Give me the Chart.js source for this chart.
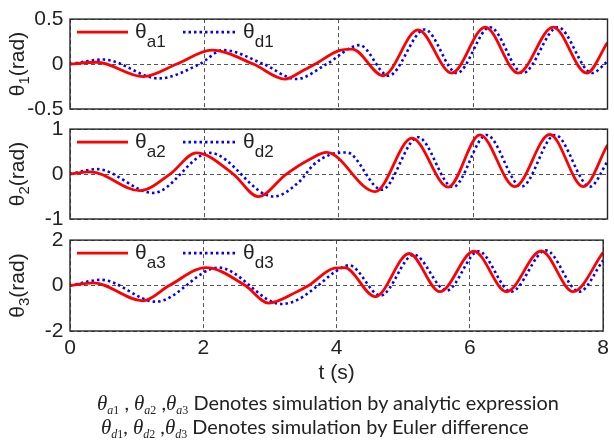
<!DOCTYPE html>
<html>
<head>
<meta charset="utf-8">
<script src="https://cdn.jsdelivr.net/npm/chart.js@4"></script>
<style>
  body { margin: 0; background: #fff; }
  #wrap { position: relative; width: 614px; height: 441px; overflow: hidden; background: #fff; }
  #wrap canvas { position: absolute; left: 0; }
  .cap { position: absolute; font-family: Lato, "Open Sans", sans-serif; font-size: 19.9px; line-height: 24px; color: #222; white-space: nowrap; }
  .th { font-family: "Liberation Serif", serif; font-style: italic; font-size: 21px; }
  .th sub { font-size: 12px; vertical-align: -4px; }
  .th sub b { font-style: normal; font-weight: normal; }
</style>
</head>
<body>
<div id="wrap">
  <canvas id="p1" width="614" height="130" style="top:0px"></canvas>
  <canvas id="p2" width="614" height="130" style="top:110px"></canvas>
  <canvas id="p3" width="614" height="165" style="top:221px"></canvas>
  <div class="cap" style="left:97px; top:390px"><span class="th">θ<sub>a<b>1</b></sub></span> , <span class="th">θ<sub>a<b>2</b></sub></span> ,<span class="th">θ<sub>a<b>3</b></sub></span> Denotes simulation by analytic expression</div>
  <div class="cap" style="left:101px; top:414px"><span class="th">θ<sub>d<b>1</b></sub></span>, <span class="th">θ<sub>d<b>2</b></sub></span> ,<span class="th">θ<sub>d<b>3</b></sub></span> Denotes simulation by Euler difference</div>
</div>
<script>
// ---- data (t in s, theta in rad) ----

// joint 1
const tA1 = [0, 0.4, 1.09, 1.59, 2.11, 2.73, 3.2, 3.45, 3.65, 4.0, 4.2, 4.66, 5.18, 5.68, 6.18, 6.67, 7.19, 7.69, 8.0];
const yA1 = [0, 0.02, -0.14, 0, 0.155, 0, -0.167, -0.08, 0, 0.15, 0.167, -0.13, 0.38, -0.1, 0.41, -0.1, 0.41, -0.1, 0.24];
const tD1 = [0, 0.5, 1.32, 1.93, 2.28, 2.88, 3.37, 3.82, 4.31, 4.74, 5.28, 5.76, 6.25, 6.74, 7.26, 7.77, 8.0];
const yD1 = [0, 0.05, -0.16, 0, 0.155, 0, -0.167, 0, 0.21, -0.13, 0.385, -0.1, 0.41, -0.1, 0.41, -0.1, 0.03];

// joint 2
const tA2 = [0, 0.3, 1.04, 1.49, 1.88, 2.43, 2.8, 3.22, 3.57, 3.82, 4.54, 5.09, 5.63, 6.1, 6.62, 7.14, 7.64, 8.0];
const yA2 = [0, 0.05, -0.37, 0, 0.47, 0, -0.5, 0, 0.33, 0.48, -0.39, 0.8, -0.29, 0.87, -0.28, 0.88, -0.28, 0.65];
const tD2 = [0, 0.4, 1.24, 2.08, 3.03, 3.42, 3.62, 3.87, 4.12, 4.64, 5.18, 5.7, 6.2, 6.72, 7.22, 7.74, 8.0];
const yD2 = [0, 0.11, -0.42, 0.47, -0.5, -0.16, 0.2, 0.43, 0.48, -0.35, 0.82, -0.29, 0.87, -0.28, 0.87, -0.28, 0.28];

// joint 3
const tA3 = [0, 0.35, 1.09, 1.49, 2.04, 2.63, 2.98, 3.42, 3.58, 3.97, 4.12, 4.58, 5.09, 5.55, 6.06, 6.55, 7.07, 7.55, 8.0];
const yA3 = [0, 0.12, -0.67, 0, 0.79, 0, -0.77, -0.25, 0, 0.77, 0.79, -0.49, 1.41, -0.27, 1.51, -0.27, 1.52, -0.27, 1.46];
const tD3 = [0, 0.47, 1.29, 2.23, 3.17, 3.42, 3.72, 3.97, 4.19, 4.66, 5.16, 5.65, 6.13, 6.62, 7.14, 7.64, 8.0];
const yD3 = [0, 0.25, -0.71, 0.79, -0.81, -0.62, 0, 0.59, 0.89, -0.44, 1.36, -0.22, 1.51, -0.27, 1.55, -0.27, 1.11];

// axis limits / ticks
const xTicks = [0, 2, 4, 6, 8];
const yLimits = [0.5, 1, 2];

const RED = '#ff0000';
const BLUE = '#0000ff';
const TXT = '#222';

function toPoints(ts, ys) {
    return ts.map((t, i) => ({ x: t, y: ys[i] }));
}

// draws "main" followed by a lowered subscript, returns end x
function textWithSub(ctx, x, y, main, sub, mainFont, subFont, drop) {
    ctx.font = mainFont;
    ctx.fillText(main, x, y);
    let w = ctx.measureText(main).width;
    ctx.font = subFont;
    ctx.fillText(sub, x + w, y + drop);
    return x + w + ctx.measureText(sub).width;
}

// frame, legend and y title for every panel
const panelDeco = {
    id: 'panelDeco',
    afterDraw(chart, args, opts) {
        const { ctx, chartArea: a } = chart;
        ctx.save();

        // box around plot
        ctx.strokeStyle = '#262626';
        ctx.lineWidth = 1.4;
        ctx.strokeRect(a.left, a.top, a.right - a.left, a.bottom - a.top);

        // legend
        const ly = a.top + 13;
        ctx.lineWidth = 2.8;
        ctx.strokeStyle = RED;
        ctx.beginPath(); ctx.moveTo(a.left + 7, ly); ctx.lineTo(a.left + 58, ly); ctx.stroke();
        ctx.lineWidth = 2.6;
        ctx.strokeStyle = BLUE;
        ctx.setLineDash([2.5, 3]);
        ctx.beginPath(); ctx.moveTo(a.left + 113, ly); ctx.lineTo(a.left + 165, ly); ctx.stroke();
        ctx.setLineDash([]);

        ctx.fillStyle = TXT;
        ctx.textBaseline = 'alphabetic';
        ctx.textAlign = 'left';
        textWithSub(ctx, a.left + 65, a.top + 19, 'θ', 'a' + opts.n, '21px "Liberation Sans"', '17px "Liberation Sans"', 9);
        textWithSub(ctx, a.left + 173, a.top + 19, 'θ', 'd' + opts.n, '21px "Liberation Sans"', '17px "Liberation Sans"', 9);

        // rotated y title: θn(rad)
        ctx.font = '21px "Liberation Sans"';
        const w1 = ctx.measureText('θ').width;
        const w3 = ctx.measureText('(rad)').width;
        ctx.font = '15px "Liberation Sans"';
        const w2 = ctx.measureText(String(opts.n)).width;
        const total = w1 + w2 + w3;
        ctx.translate(24, (a.top + a.bottom) / 2);
        ctx.rotate(-Math.PI / 2);
        let x = -total / 2;
        x = textWithSub(ctx, x, 0, 'θ', String(opts.n), '21px "Liberation Sans"', '15px "Liberation Sans"', 5);
        ctx.font = '21px "Liberation Sans"';
        ctx.fillText('(rad)', x, 0);

        ctx.restore();
    }
};

function makePanel(id, n, tA, yA, tD, yD, lim, bottomAxis) {
    const ctx = document.getElementById(id).getContext('2d');
    return new Chart(ctx, {
        type: 'line',
        data: {
            datasets: [{
                label: 'θa' + n,
                data: toPoints(tA, yA),
                borderColor: RED,
                borderWidth: 2.8,
                pointRadius: 0,
                cubicInterpolationMode: 'monotone',
                fill: false
            }, {
                label: 'θd' + n,
                data: toPoints(tD, yD),
                borderColor: BLUE,
                borderWidth: 2.6,
                borderDash: [2.5, 3],
                pointRadius: 0,
                cubicInterpolationMode: 'monotone',
                fill: false
            }]
        },
        options: {
            responsive: false,
            animation: false,
            layout: { padding: { top: 19, right: 6.5, bottom: bottomAxis ? 0 : 21, left: 0 } },
            plugins: {
                legend: { display: false },
                tooltip: { enabled: false },
                panelDeco: { n: n }
            },
            scales: {
                x: {
                    type: 'linear',
                    min: 0,
                    max: 8,
                    afterBuildTicks: (axis) => { axis.ticks = xTicks.map(v => ({ value: v })); },
                    afterFit: (axis) => { axis.height = bottomAxis ? 55 : 0; },
                    grid: { color: '#555', lineWidth: 1, drawTicks: false },
                    border: { display: false, dash: [4, 3] },
                    ticks: {
                        display: bottomAxis,
                        color: TXT,
                        padding: 5,
                        maxRotation: 0,
                        font: { family: 'Liberation Sans', size: 21 }
                    },
                    title: {
                        display: bottomAxis,
                        text: 't (s)',
                        color: TXT,
                        padding: 0,
                        font: { family: 'Liberation Sans', size: 21 }
                    }
                },
                y: {
                    min: -lim,
                    max: lim,
                    afterBuildTicks: (axis) => { axis.ticks = [-lim, 0, lim].map(v => ({ value: v })); },
                    afterFit: (axis) => { axis.width = 70; },
                    grid: { color: '#555', lineWidth: 1, drawTicks: false },
                    border: { display: false, dash: [4, 3] },
                    ticks: {
                        color: TXT,
                        padding: 6.5,
                        font: { family: 'Liberation Sans', size: 21 }
                    }
                }
            }
        },
        plugins: [panelDeco]
    });
}

makePanel('p1', 1, tA1, yA1, tD1, yD1, yLimits[0], false);
makePanel('p2', 2, tA2, yA2, tD2, yD2, yLimits[1], false);
makePanel('p3', 3, tA3, yA3, tD3, yD3, yLimits[2], true);
</script>
</body>
</html>
